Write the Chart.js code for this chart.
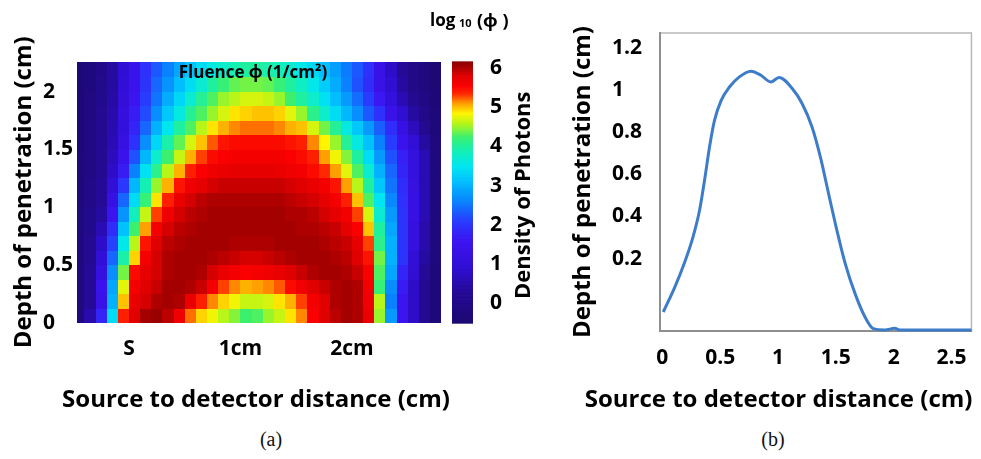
<!DOCTYPE html>
<html>
<head>
<meta charset="utf-8">
<script src="https://cdn.jsdelivr.net/npm/chart.js@4.4.1/dist/chart.umd.min.js"></script>
<style>
  body { margin: 0; background: #fff; width: 981px; height: 459px; overflow: hidden; position: relative; }
  canvas { position: absolute; top: 0; }
  #fluence { left: 0; }
  #depth { left: 545px; }
  .cap { position: absolute; top: 427px; width: 40px; text-align: center; font: 20px 'Liberation Serif', serif; line-height: 24px; color: #111; }
</style>
</head>
<body>
<canvas id="fluence" width="545" height="420"></canvas>
<canvas id="depth" width="436" height="420"></canvas>
<div class="cap" style="left:251px">(a)</div>
<div class="cap" style="left:753px">(b)</div>
<script>
// (a) fluence map, log10 values
const distCols = [-0.45, -0.35, -0.25, -0.15, -0.05, 0.05, 0.15, 0.25, 0.35, 0.45, 0.55,
  0.65, 0.75, 0.85, 0.95, 1.05, 1.15, 1.25, 1.35, 1.45, 1.55, 1.65, 1.75, 1.85, 1.95,
  2.05, 2.15, 2.25, 2.35, 2.45, 2.55, 2.65, 2.75];
const depthRows = [0.06, 0.19, 0.31, 0.44, 0.56, 0.69, 0.81, 0.94, 1.06, 1.19, 1.31,
  1.44, 1.56, 1.69, 1.81, 1.94, 2.06, 2.19];
const fluenceLog = [
  [-0.2,0.5,1.8,3.4,5.4,5.8,6.05,6.1,5.95,5.65,5.2,4.95,4.8,4.6,4.45,4.25,4.3,4.5,4.65,4.9,5.15,5.55,5.8,5.95,6.05,6.0,5.7,4.5,2.8,1.6,0.8,0.2,-0.3],
  [-0.2,0.3,1.4,3.0,5.0,5.7,5.85,6.0,6.05,6.0,5.7,5.4,5.15,4.95,4.8,4.65,4.65,4.7,4.9,5.05,5.3,5.6,5.8,6.0,6.05,6.0,5.65,4.6,2.6,1.6,0.8,0.2,-0.3],
  [-0.2,0.3,1.5,2.9,4.75,5.6,5.8,5.9,6.05,6.05,6.0,5.9,5.6,5.3,5.15,5.05,5.1,5.15,5.25,5.5,5.65,5.8,5.9,6.0,6.05,6.0,5.6,4.2,2.7,1.7,0.8,0.2,-0.3],
  [-0.2,0.3,1.2,2.7,4.4,5.5,5.75,5.85,6.0,6.05,6.05,6.0,5.85,5.7,5.6,5.55,5.6,5.65,5.7,5.8,5.9,6.0,6.05,6.05,6.0,5.9,5.55,4.3,2.9,1.8,0.9,0.3,-0.3],
  [-0.2,0.2,1.0,2.4,3.95,4.95,5.6,5.85,6.0,6.05,6.05,6.05,6.0,5.95,5.9,5.85,5.85,5.9,5.95,6.0,6.05,6.05,6.05,6.0,5.95,5.8,5.45,4.4,3.0,2.0,1.0,0.4,-0.2],
  [-0.2,0.2,0.8,2.15,3.55,4.6,5.45,5.8,5.95,6.0,6.05,6.05,6.05,6.05,6.0,6.0,6.0,6.0,6.05,6.05,6.05,6.05,6.0,5.95,5.9,5.75,5.3,4.1,3.0,2.0,1.2,0.5,-0.2],
  [-0.2,0.1,0.6,1.9,3.15,4.25,5.1,5.6,5.85,5.95,6.0,6.05,6.05,6.05,6.05,6.05,6.05,6.05,6.05,6.05,6.0,6.0,5.95,5.9,5.75,5.55,5.0,4.0,2.9,2.0,1.2,0.5,-0.2],
  [-0.25,0.1,0.4,1.6,2.75,3.85,4.65,5.3,5.65,5.85,5.95,6.0,6.05,6.05,6.05,6.05,6.05,6.05,6.05,6.0,6.0,5.95,5.85,5.75,5.6,5.3,4.7,3.7,2.8,2.0,1.3,0.6,-0.2],
  [-0.3,0.0,0.3,1.3,2.4,3.4,4.2,4.9,5.4,5.7,5.85,5.95,6.0,6.0,6.0,6.0,6.0,6.0,6.0,5.95,5.9,5.85,5.75,5.6,5.4,5.0,4.3,3.5,2.65,1.95,1.3,0.6,-0.2],
  [-0.3,0.0,0.3,1.0,2.05,3.05,3.9,4.5,5.05,5.45,5.65,5.75,5.85,5.9,5.9,5.9,5.9,5.9,5.9,5.85,5.8,5.7,5.6,5.45,5.1,4.6,4.0,3.2,2.5,1.9,1.25,0.6,-0.2],
  [-0.3,-0.1,0.2,0.8,1.7,2.6,3.45,4.1,4.6,5.05,5.4,5.55,5.65,5.7,5.75,5.75,5.75,5.75,5.7,5.65,5.6,5.5,5.35,5.1,4.75,4.3,3.7,3.0,2.4,1.8,1.2,0.6,-0.2],
  [-0.3,-0.1,0.2,0.7,1.45,2.25,3.05,3.75,4.25,4.65,5.05,5.3,5.5,5.55,5.6,5.6,5.6,5.6,5.6,5.55,5.5,5.4,5.1,4.8,4.45,4.0,3.4,2.8,2.25,1.75,1.2,0.6,-0.2],
  [-0.35,-0.1,0.2,0.6,1.25,1.95,2.7,3.35,3.95,4.35,4.7,5.0,5.25,5.45,5.5,5.5,5.5,5.5,5.5,5.45,5.4,5.15,4.85,4.5,4.05,3.6,3.15,2.6,2.1,1.5,1.0,0.4,-0.25],
  [-0.35,-0.1,0.2,0.55,1.15,1.8,2.4,3.0,3.5,4.0,4.3,4.6,4.9,5.05,5.15,5.2,5.2,5.2,5.15,5.05,5.0,4.7,4.4,4.05,3.6,3.2,2.8,2.35,1.9,1.3,0.7,0.2,-0.3],
  [-0.35,-0.15,0.15,0.5,1.1,1.7,2.2,2.7,3.2,3.6,4.05,4.3,4.5,4.7,4.9,4.95,5.0,5.0,4.95,4.75,4.5,4.1,3.75,3.4,3.05,2.7,2.3,1.95,1.4,0.9,0.4,0.0,-0.3],
  [-0.35,-0.15,0.1,0.45,1.05,1.6,2.1,2.5,2.95,3.35,3.7,4.05,4.3,4.5,4.6,4.7,4.7,4.65,4.5,4.25,4.0,3.75,3.45,3.1,2.8,2.45,2.1,1.65,1.15,0.6,0.2,-0.1,-0.35],
  [-0.4,-0.2,0.1,0.4,1.0,1.5,2.0,2.4,2.75,3.1,3.4,3.7,4.0,4.2,4.35,4.4,4.4,4.35,4.2,4.0,3.8,3.55,3.25,2.95,2.6,2.25,1.9,1.4,0.9,0.4,0.0,-0.2,-0.4],
  [-0.4,-0.2,0.05,0.4,0.95,1.45,1.95,2.3,2.6,2.9,3.15,3.4,3.6,3.75,3.9,4.0,4.0,3.95,3.85,3.7,3.55,3.35,3.1,2.85,2.55,2.3,1.95,1.4,0.8,0.3,0.0,-0.2,-0.4]
];
const distTicksA = [0, 1, 2];
const distLabelsA = ['S', '1cm', '2cm'];
const depthTicksA = [0, 0.5, 1, 1.5, 2];
const cbTicks = [0, 1, 2, 3, 4, 5, 6];

// (b) penetration depth profile
const profileDist = [0.008, 0.108, 0.194, 0.265, 0.322, 0.365, 0.408, 0.451, 0.509, 0.58,
  0.666, 0.766, 0.852, 0.937, 1.009, 1.123, 1.208, 1.294, 1.366, 1.437, 1.509, 1.581,
  1.666, 1.752, 1.823, 1.924, 2.009, 2.052, 2.69];
const profileDepth = [-0.053, 0.065, 0.184, 0.302, 0.429, 0.571, 0.729, 0.855, 0.95, 1.013,
  1.061, 1.088, 1.069, 1.037, 1.058, 1.006, 0.935, 0.824, 0.682, 0.508, 0.334, 0.176,
  0.034, -0.077, -0.132, -0.138, -0.13, -0.138, -0.138];
const distTicksB = [0, 0.5, 1, 1.5, 2, 2.5];
const depthTicksB = [0.2, 0.4, 0.6, 0.8, 1, 1.2];

const FONT = '"Open Sans", "Noto Sans", "DejaVu Sans", sans-serif';
Chart.defaults.font.family = FONT;
Chart.defaults.color = '#000';

// jet-like colour scale as shown on the colour bar
const jetStops = [
  [-0.5, [28, 8, 112]], [0.3, [36, 10, 150]], [0.9, [48, 14, 210]], [1.6, [60, 20, 240]],
  [2.1, [40, 60, 255]], [2.6, [10, 130, 255]], [3.1, [0, 190, 255]], [3.5, [0, 230, 240]],
  [3.9, [20, 240, 180]], [4.25, [60, 240, 110]], [4.55, [170, 245, 30]], [4.85, [255, 245, 0]],
  [5.1, [255, 160, 0]], [5.35, [255, 40, 0]], [5.55, [250, 0, 0]], [5.8, [225, 0, 0]],
  [6.0, [175, 0, 0]], [6.16, [140, 0, 0]]
];
function jet(v) {
  let k = 1;
  while (k < jetStops.length - 1 && v > jetStops[k][0]) k++;
  const [v0, c0] = jetStops[k - 1], [v1, c1] = jetStops[k];
  const t = Math.max(0, Math.min(1, (v - v0) / (v1 - v0)));
  return 'rgb(' + c0.map((c, n) => Math.round(c + (c1[n] - c) * t)).join(',') + ')';
}

const cells = [];
depthRows.forEach((d, i) => distCols.forEach((c, j) => cells.push({ x: c, y: d, v: fluenceLog[i][j], i, j })));

const heatmapPlugin = {
  id: 'heatmap',
  beforeDatasetsDraw(chart) {
    const { ctx, chartArea: a, scales: { x, y } } = chart;
    const edge = (arr, k, lo, hi) => [k === 0 ? lo : (arr[k - 1] + arr[k]) / 2,
      k === arr.length - 1 ? hi : (arr[k] + arr[k + 1]) / 2];
    ctx.save();
    ctx.beginPath();
    ctx.rect(a.left, a.top, a.width, a.height);
    ctx.clip();
    chart.data.datasets[0].data.forEach(p => {
      const [xa, xb] = edge(distCols, p.j, x.min, x.max);
      const [ya, yb] = edge(depthRows, p.i, y.min, y.max);
      const l = Math.round(x.getPixelForValue(xa)), r = Math.round(x.getPixelForValue(xb));
      const t = Math.round(y.getPixelForValue(yb)), b = Math.round(y.getPixelForValue(ya));
      ctx.fillStyle = jet(p.v);
      ctx.fillRect(l, t, r - l, b - t);
    });
    ctx.restore();
  }
};

const colorbarPlugin = {
  id: 'colorbar',
  afterDraw(chart) {
    const { ctx, chartArea: a, scales: { cb } } = chart;
    const x0 = a.right + 11, w = 21;
    for (let v = cb.min; v < cb.max; v += 0.01) {
      const y0 = cb.getPixelForValue(v), y1 = cb.getPixelForValue(Math.min(v + 0.01, cb.max));
      ctx.fillStyle = jet(v);
      ctx.fillRect(x0, y1, w, y0 - y1 + 0.6);
    }
    ctx.save();
    ctx.fillStyle = '#000';
    ctx.font = 'bold 17px ' + FONT;
    ctx.textAlign = 'center';
    ctx.textBaseline = 'middle';
    ctx.fillText('Fluence ϕ (1/cm²)', (a.left + a.right) / 2 - 6, a.top + 12);
    ctx.textAlign = 'left';
    ctx.textBaseline = 'alphabetic';
    ctx.font = 'bold 17px ' + FONT;
    ctx.fillText('log', 430, 26);
    ctx.font = 'bold 11px ' + FONT;
    ctx.fillText('10', 459, 27);
    ctx.font = 'bold 18px ' + FONT;
    ctx.fillText('(ϕ )', 477, 27);
    ctx.translate(cb.right - 21, (a.top + a.bottom) / 2 + 3);
    ctx.rotate(-Math.PI / 2);
    ctx.textAlign = 'center';
    ctx.textBaseline = 'middle';
    ctx.font = 'bold 22px ' + FONT;
    ctx.fillText('Density of Photons', 0, 0);
    ctx.restore();
  }
};

// axis titles are wider than the plot box, so they are drawn unsqueezed here
function axisTitles(id, place) {
  return {
    id,
    afterDraw(chart) {
      const { ctx, chartArea: a } = chart;
      const t = place(a);
      ctx.save();
      ctx.fillStyle = '#000';
      ctx.font = 'bold 24px ' + FONT;
      ctx.textBaseline = 'alphabetic';
      ctx.textAlign = t.xAlign;
      ctx.fillText('Source to detector distance (cm)', t.xPos, t.xBase);
      ctx.translate(t.yBase, (a.top + a.bottom) / 2);
      ctx.rotate(-Math.PI / 2);
      ctx.textAlign = 'center';
      ctx.fillText('Depth of penetration (cm)', 0, 0);
      ctx.restore();
    }
  };
}

const tickFont = { size: 21, weight: 'bold' };
const noGrid = { display: false, drawTicks: false };

new Chart(document.getElementById('fluence'), {
  type: 'scatter',
  data: { datasets: [{ data: cells, pointRadius: 0, pointHoverRadius: 0 }] },
  options: {
    responsive: false,
    animation: false,
    events: [],
    layout: { padding: { top: 40, left: 43, right: 0, bottom: 0 } },
    plugins: { legend: { display: false }, tooltip: { enabled: false } },
    scales: {
      x: {
        type: 'linear', min: -0.466, max: 2.798,
        grid: noGrid, border: { display: false },
        afterBuildTicks: s => { s.ticks = distTicksA.map(v => ({ value: v })); },
        afterFit: s => { s.height = 97; },
        ticks: { padding: 13, font: tickFont, callback: v => distLabelsA[distTicksA.indexOf(v)] }
      },
      y: {
        min: 0, max: 2.26,
        grid: noGrid, border: { display: false },
        afterBuildTicks: s => { s.ticks = depthTicksA.map(v => ({ value: v })); },
        afterFit: s => { s.width = 34; },
        ticks: { crossAlign: 'far', font: tickFont, callback: v => String(v) }
      },
      cb: {
        position: 'right', min: -0.5, max: 6.16,
        grid: noGrid, border: { display: false },
        afterBuildTicks: s => { s.ticks = cbTicks.map(v => ({ value: v })); },
        afterFit: s => { s.width = 104; },
        ticks: { padding: 49, font: tickFont, callback: v => String(v) }
      }
    }
  },
  plugins: [heatmapPlugin, colorbarPlugin,
    axisTitles('titlesA', a => ({ xAlign: 'center', xPos: (a.left + a.right) / 2 - 3, xBase: 407, yBase: a.left - 46 }))]
});

const framePlugin = {
  id: 'frame',
  beforeDraw(chart) {
    const { ctx, chartArea: a } = chart;
    ctx.save();
    ctx.strokeStyle = '#b8b8b8';
    ctx.lineWidth = 1.5;
    ctx.strokeRect(a.left, a.top, a.width, a.height);
    ctx.restore();
  }
};

new Chart(document.getElementById('depth'), {
  type: 'line',
  data: {
    datasets: [{
      data: profileDist.map((x, k) => ({ x, y: profileDepth[k] })),
      borderColor: '#3d7cc9',
      borderWidth: 3,
      pointRadius: 0,
      tension: 0.4,
      cubicInterpolationMode: 'monotone',
      clip: { left: 2, top: 2, right: 0, bottom: 4 }
    }]
  },
  options: {
    responsive: false,
    animation: false,
    events: [],
    layout: { padding: { top: 33, left: 67, right: 7, bottom: 0 } },
    plugins: { legend: { display: false }, tooltip: { enabled: false } },
    scales: {
      x: {
        type: 'linear', min: -0.02, max: 2.672,
        grid: noGrid, border: { display: true, color: '#8f8f8f', width: 2 },
        afterBuildTicks: s => { s.ticks = distTicksB.map(v => ({ value: v })); },
        afterFit: s => { s.height = 89; },
        ticks: { padding: 14, font: tickFont, callback: v => String(v) }
      },
      y: {
        min: -0.143, max: 1.269,
        grid: noGrid, border: { display: true, color: '#8f8f8f', width: 2 },
        afterBuildTicks: s => { s.ticks = depthTicksB.map(v => ({ value: v })); },
        afterFit: s => { s.width = 48; },
        ticks: { crossAlign: 'far', font: tickFont, callback: v => String(v) }
      }
    }
  },
  plugins: [framePlugin,
    axisTitles('titlesB', a => ({ xAlign: 'right', xPos: a.right + 1, xBase: 407, yBase: a.left - 70 }))]
});
</script>
</body>
</html>
